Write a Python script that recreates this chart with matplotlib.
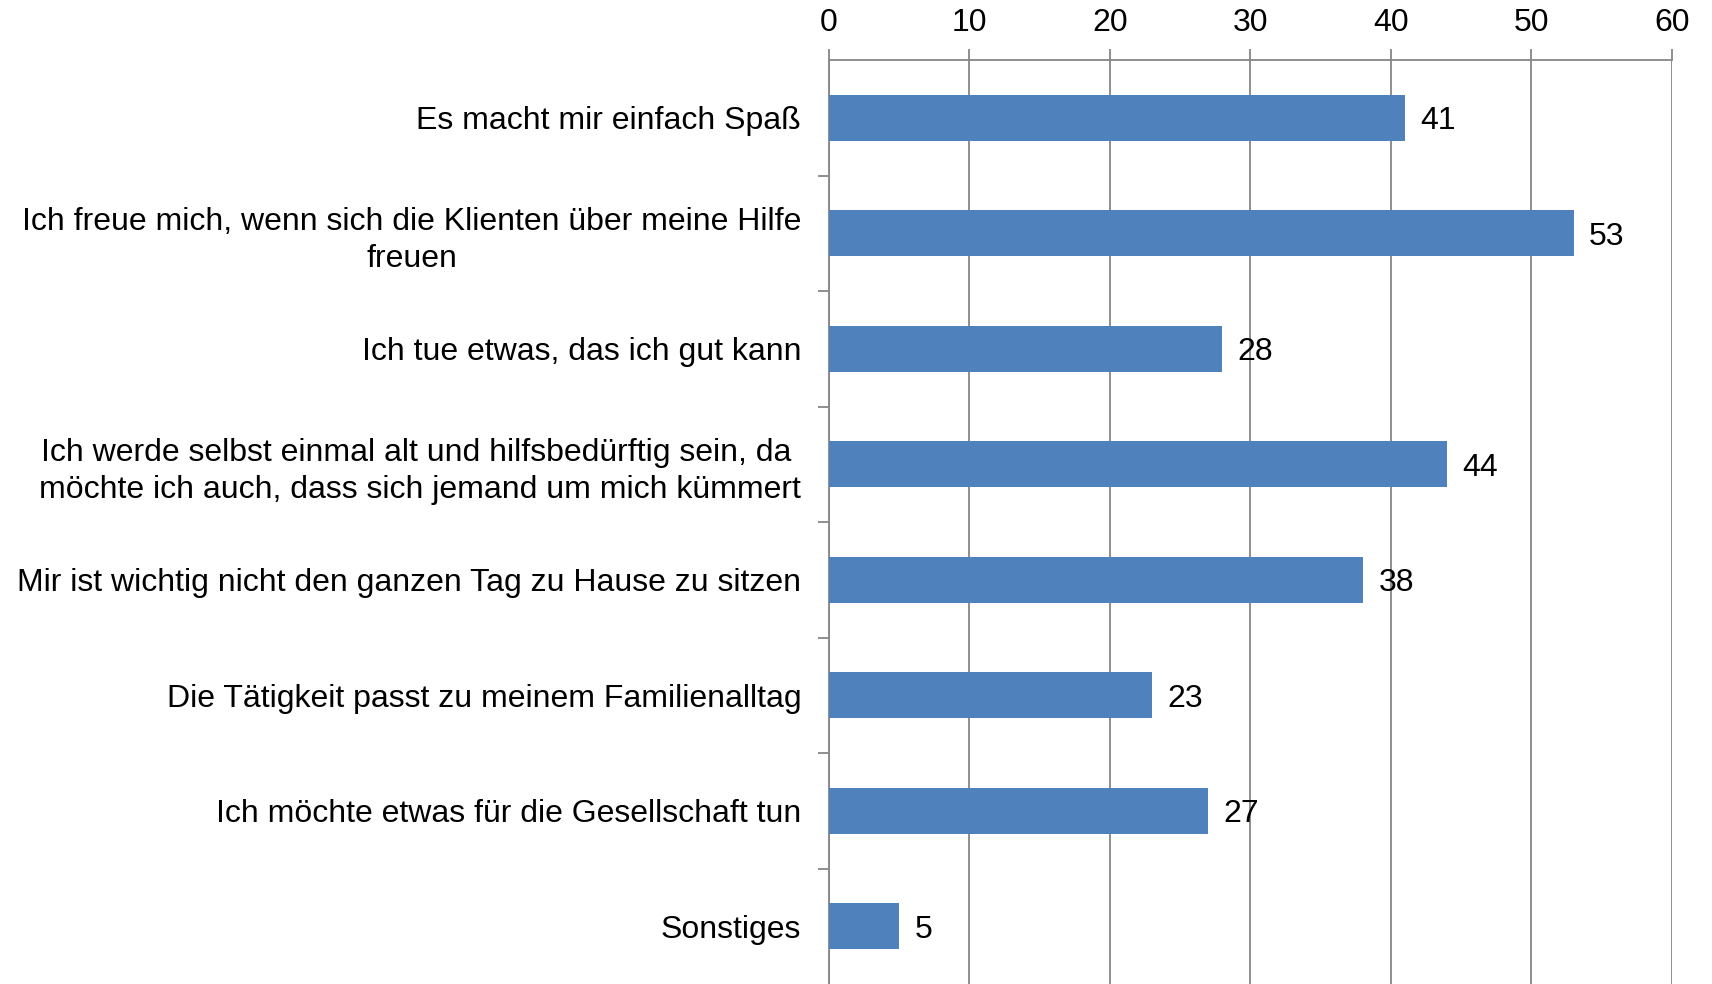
import numpy as np
import matplotlib
matplotlib.use("Agg")
from matplotlib import pyplot as plt

labels = [
    "Es macht mir einfach Spaß",
    "Ich freue mich, wenn sich die Klienten über meine Hilfe\nfreuen",
    "Ich tue etwas, das ich gut kann",
    "Ich werde selbst einmal alt und hilfsbedürftig sein, da \nmöchte ich auch, dass sich jemand um mich kümmert",
    "Mir ist wichtig nicht den ganzen Tag zu Hause zu sitzen",
    "Die Tätigkeit passt zu meinem Familienalltag",
    "Ich möchte etwas für die Gesellschaft tun",
    "Sonstiges",
]
values = [41, 53, 28, 44, 38, 23, 27, 5]
xticks = [0, 10, 20, 30, 40, 50, 60]

plt.rcParams["font.family"] = ["Liberation Sans", "DejaVu Sans"]
fig = plt.figure(figsize=(17.12, 9.84), dpi=100)
ax = fig.add_axes([0.4842, 0.0, 0.4924, 0.939])

grey = "#868686"
fs = 23
y = np.arange(len(values))
ax.barh(y, values, height=0.4, color="#4F81BD", zorder=3)
for yi, v in zip(y, values):
    ax.text(v + 1.1, yi, str(v), va="center_baseline", ha="left", fontsize=fs, zorder=4)

ax.set_ylim(len(values) - 0.5, -0.5)
ax.set_xlim(0, 60)
ax.set_xticks(xticks)
ax.xaxis.tick_top()
ax.tick_params(axis="x", direction="out", length=8, color=grey, width=1.3,
               labelsize=fs, pad=8)
ax.grid(axis="x", color=grey, linewidth=1.3, zorder=0)

ax.set_yticks(y)
ax.set_yticklabels(labels, fontsize=fs, multialignment="center", linespacing=1.32)
ax.tick_params(axis="y", which="major", length=0, pad=20)
ax.set_yticks(np.arange(0.5, len(values) - 0.5, 1), minor=True)
ax.tick_params(axis="y", which="minor", length=8, color=grey, width=1.3)

for s in ["right", "bottom"]:
    ax.spines[s].set_visible(False)
for s in ["top", "left"]:
    ax.spines[s].set_color(grey)
    ax.spines[s].set_linewidth(1.3)

fig.savefig("out.png", dpi=100)
